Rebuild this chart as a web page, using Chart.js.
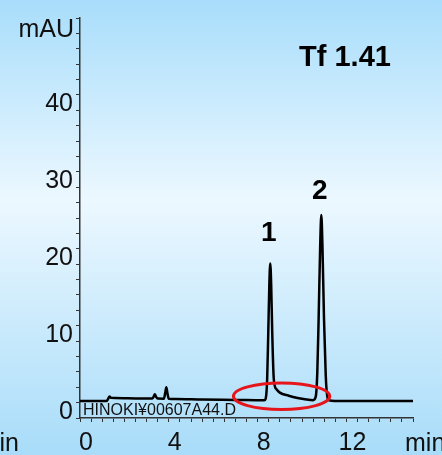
<!DOCTYPE html>
<html>
<head>
<meta charset="utf-8">
<script src="https://cdn.jsdelivr.net/npm/chart.js@4/dist/chart.umd.min.js"></script>
<style>
  html, body { margin: 0; padding: 0; }
  body {
    width: 442px; height: 455px; overflow: hidden;
    background: linear-gradient(to bottom, #a8ddfb 0%, #ecf8ff 44%, #a8dcf9 100%);
  }
  canvas { display: block; }
</style>
</head>
<body>
<canvas id="myChart" width="442" height="455"></canvas>
<script>
// retention time (min) and detector signal (mAU)
const timeMin = [0, 1.2, 1.27, 1.33, 1.4, 1.6, 2.5, 3.25, 3.33, 3.37,
  3.42, 3.5, 3.78, 3.84, 3.89, 3.94, 4.0, 4.3, 5.5, 7.0,
  8.3, 8.37, 8.43, 8.48, 8.53, 8.57, 8.61, 8.66, 8.72, 8.78,
  8.85, 9.0, 9.4, 9.8, 10.2, 10.5, 10.62, 10.69, 10.75, 10.82,
  10.87, 10.92, 10.99, 11.07, 11.14, 11.22, 11.5, 12.5, 13.5, 15];
const signal = [0.2, 0.2, 0.5, 0.8, 0.62, 0.6, 0.55, 0.52, 0.85, 1.1,
  0.8, 0.52, 0.5, 1.3, 2.0, 1.2, 0.5, 0.47, 0.4, 0.35,
  0.3, 0.6, 3.0, 9.0, 15.5, 18.1, 15.5, 9.0, 3.5, 2.1,
  1.75, 1.3, 0.9, 0.6, 0.4, 0.32, 0.8, 4.0, 11.0, 20.5,
  24.4, 20.5, 11.0, 3.5, 0.8, 0.3, 0.22, 0.2, 0.22, 0.2];

const yTickLabels = [0, 10, 20, 30, 40];
const xTickLabels = [0, 4, 8, 12];

// peak numbers, placed in data units
const peakNames = ['1', '2'];
const peakLabelTime = [8.5, 10.8];
const peakLabelMAU = [22, 27.5];

const fileName = 'HINOKI\u00a500607A44.D';
const tailingText = 'Tf 1.41';

const FONT = '"Liberation Sans", Arial, sans-serif';

const points = timeMin.map((t, i) => ({ x: t, y: signal[i] }));

const overlay = {
  id: 'overlay',
  afterDatasetsDraw(chart) {
    const { ctx, chartArea, scales } = chart;
    const xs = scales.x, ys = scales.y;

    // red ring round the tailing region
    const cx = xs.getPixelForValue(9.08), cy = ys.getPixelForValue(0.83);
    const rx = xs.getPixelForValue(9.08 + 2.17) - cx;
    const ry = cy - ys.getPixelForValue(0.83 + 1.72);
    ctx.save();
    ctx.strokeStyle = '#e8141c';
    ctx.lineWidth = 3;
    ctx.beginPath();
    ctx.ellipse(cx, cy, rx, ry, 0, 0, Math.PI * 2);
    ctx.stroke();

    ctx.fillStyle = '#000';
    ctx.textAlign = 'center';
    ctx.textBaseline = 'middle';
    ctx.font = 'bold 28px ' + FONT;
    peakNames.forEach((name, i) => {
      ctx.fillText(name, xs.getPixelForValue(peakLabelTime[i]), ys.getPixelForValue(peakLabelMAU[i]));
    });

    ctx.textBaseline = 'alphabetic';
    ctx.font = 'bold 29px ' + FONT;
    ctx.fillText(tailingText, 345, 66);

    ctx.textAlign = 'right';
    ctx.font = '25px ' + FONT;
    ctx.fillStyle = '#111';
    ctx.fillText('mAU', 74, 37);
    ctx.fillText('min', 19, 451);

    ctx.textAlign = 'left';
    ctx.fillText('min', 405, 451);

    ctx.font = '16px ' + FONT;
    ctx.fillStyle = '#111';
    ctx.fillText(fileName, chartArea.left + 3, chartArea.bottom - 3);
    ctx.restore();
  }
};

const ctx = document.getElementById('myChart').getContext('2d');
const myChart = new Chart(ctx, {
  type: 'line',
  data: {
    datasets: [{
      data: points,
      borderColor: '#000',
      borderWidth: 2.5,
      pointRadius: 0,
      cubicInterpolationMode: 'monotone',
      fill: false
    }]
  },
  options: {
    responsive: false,
    animation: false,
    layout: { padding: { top: 11, right: 29, left: 0, bottom: 0 } },
    plugins: { legend: { display: false }, tooltip: { enabled: false } },
    scales: {
      x: {
        type: 'linear',
        min: 0,
        max: 15,
        afterFit: (s) => { s.height = 37; },
        border: { color: '#333', width: 1.5 },
        grid: { drawOnChartArea: false, tickLength: 4, color: '#333' },
        ticks: {
          stepSize: 0.5,
          autoSkip: false,
          maxRotation: 0,
          labelOffset: 6,
          padding: 6,
          color: '#111',
          font: { family: FONT, size: 25 },
          callback: (v) => xTickLabels.includes(v) ? String(v) : ''
        }
      },
      y: {
        min: -2,
        max: 50,
        afterFit: (s) => { s.width = 80; },
        border: { color: '#333', width: 1.5 },
        grid: { drawOnChartArea: false, tickLength: 4, color: '#333' },
        ticks: {
          stepSize: 2,
          autoSkip: false,
          labelOffset: 9,
          padding: 3,
          color: '#111',
          font: { family: FONT, size: 25 },
          callback: (v) => yTickLabels.includes(v) ? String(v) : ''
        }
      }
    }
  },
  plugins: [overlay]
});
</script>
</body>
</html>
